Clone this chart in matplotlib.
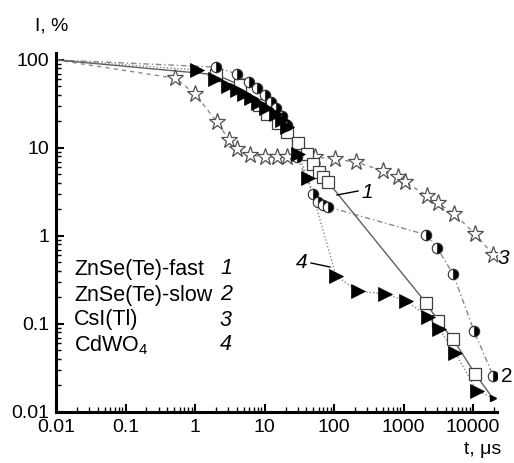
import matplotlib
matplotlib.use("Agg")
import matplotlib.pyplot as plt
from matplotlib.ticker import LogLocator, FixedLocator, NullFormatter, FixedFormatter

plt.rcParams['font.family'] = ['Liberation Sans', 'DejaVu Sans']
plt.rcParams['mathtext.fontset'] = 'custom'
plt.rcParams['mathtext.rm'] = 'Liberation Sans'
plt.rcParams['mathtext.it'] = 'Liberation Sans:italic'

# Series 1: ZnSe(Te)-fast (open squares, solid line)
t_fast = [0.01, 2.0, 4.4, 8.3, 10.9, 15.6, 21, 30.4, 40.9, 49.9, 60.8, 69.5, 82, 2110, 3130, 5150, 10700, 20000]
i_fast = [100, 68, 52, 31, 24, 19, 15, 11.4, 8.55, 6.6, 5.3, 4.7, 4.1, 0.173, 0.108, 0.067, 0.027, 0.0137]

# Series 2: ZnSe(Te)-slow (half-filled circles, dash-dot line)
t_slow = [0.01, 2.0, 4.0, 6.0, 7.8, 10.2, 12.4, 14.6, 17.9, 21.1, 29.4, 49.9, 58.9, 69.5, 82, 2110, 3030, 5150, 10300, 19400]
i_slow = [100, 83, 69, 56, 48, 40, 33.3, 28.5, 23.1, 18.3, 7.9, 3.0, 2.43, 2.25, 2.14, 1.03, 0.73, 0.37, 0.083, 0.0257]

# Series 3: CsI(Tl) (open stars, dashed line)
t_csi = [0.01, 0.52, 1.0, 2.07, 3.08, 4.02, 6.2, 10.2, 15.1, 21, 53, 103, 207, 507, 834, 1050, 2180, 3130, 5330, 10700, 19400]
i_csi = [100, 62, 41, 19.7, 12.3, 9.7, 8.3, 7.9, 7.9, 7.9, 7.9, 7.5, 6.9, 5.5, 4.7, 4.1, 2.85, 2.37, 1.78, 1.05, 0.61]

# Series 4: CdWO4 (filled triangles, dotted line)
t_cdwo = [0.01, 1.07, 1.94, 2.98, 4.0, 5.07, 6.4, 8.1, 10.5, 14.6, 17.9, 21.1, 30.4, 42.2, 107, 221, 542, 1087, 2250, 3250, 5510, 11400, 19400]
i_cdwo = [100, 77, 60.8, 50.7, 45.6, 41, 37, 32.4, 28.5, 24.3, 20.8, 17.3, 8.5, 4.56, 0.35, 0.237, 0.219, 0.183, 0.12, 0.088, 0.047, 0.0173, 0.0144]

legend_names = ["ZnSe(Te)-fast", "ZnSe(Te)-slow", "CsI(Tl)", "CdWO$_4$"]
legend_nums = ["1", "2", "3", "4"]

x_ticks = [0.01, 0.1, 1, 10, 100, 1000, 10000]
x_labels = ["0.01", "0.1", "1", "10", "100", "1000", "10000"]
y_ticks = [0.01, 0.1, 1, 10, 100]
y_labels = ["0.01", "0.1", "1", "10", "100"]

fig = plt.figure(figsize=(5.14, 4.63), dpi=100)
ax = fig.add_axes([0.1089, 0.1102, 0.858, 0.7754])
ax.set_xscale('log')
ax.set_yscale('log')
ax.set_xlim(0.01, 22000)
ax.set_ylim(0.01, 120)

lc = '#8a8a8a'
# lines
ax.plot(t_csi, i_csi, color=lc, lw=1.0, ls=(0, (3, 3)), zorder=2)
ax.plot(t_slow, i_slow, color=lc, lw=1.0, ls=(0, (4, 2, 1, 2)), zorder=2)
ax.plot(t_cdwo, i_cdwo, color=lc, lw=1.0, ls=(0, (1, 1.5)), zorder=2)
ax.plot(t_fast, i_fast, color='#606060', lw=1.0, ls='-', zorder=2)

# markers
ax.plot(t_csi[1:], i_csi[1:], ls='none', marker='*', ms=12.5, mfc='white', mec='#505050', mew=0.9, zorder=3)
ax.plot(t_fast[1:-1], i_fast[1:-1], ls='none', marker='s', ms=8, mfc='white', mec='#404040', mew=0.9, zorder=3)
ax.plot(t_slow[1:], i_slow[1:], ls='none', marker='o', ms=7.5, fillstyle='right', mfc='black',
        mfcalt='white', mec='#303030', mew=0.8, zorder=4)
ax.plot(t_cdwo[1:-1], i_cdwo[1:-1], ls='none', marker='>', ms=10, mfc='black', mec='black', mew=0.5, zorder=5)
ax.plot(t_cdwo[-1:], i_cdwo[-1:], ls='none', marker='>', ms=4, mfc='black', mec='black', zorder=5)

# spines
for s in ['top', 'right']:
    ax.spines[s].set_visible(False)
for s in ['left', 'bottom']:
    ax.spines[s].set_linewidth(2.2)

ax.xaxis.set_major_locator(FixedLocator(x_ticks))
ax.xaxis.set_major_formatter(FixedFormatter(x_labels))
ax.yaxis.set_major_locator(FixedLocator(y_ticks))
ax.yaxis.set_major_formatter(FixedFormatter(y_labels))
ax.xaxis.set_minor_locator(LogLocator(base=10, subs=range(2, 10), numticks=20))
ax.yaxis.set_minor_locator(LogLocator(base=10, subs=range(2, 10), numticks=20))
ax.xaxis.set_minor_formatter(NullFormatter())
ax.yaxis.set_minor_formatter(NullFormatter())
ax.tick_params(which='major', direction='in', length=6, width=1.5, labelsize=14, pad=5)
ax.tick_params(which='minor', direction='in', length=3.5, width=1.0)

# axis titles
fig.text(35 / 514, 1 - 26 / 463, "I, %", fontsize=14, ha='left', va='center')
fig.text(483 / 514, 1 - 450 / 463, "t, \u03bcs", fontsize=14, ha='center', va='center')

# text legend
ys = [269, 295, 320, 345]
for name, num, y in zip(legend_names, legend_nums, ys):
    fig.text(74 / 514, 1 - y / 463, name, fontsize=15.5, ha='left', va='center')
    fig.text(226 / 514, 1 - y / 463, num, fontsize=15.5, ha='center', va='center', style='italic')

# curve labels with leader lines
def px(x, y):
    return (x / 514, 1 - y / 463)

fig.text(*px(367, 192), "1", fontsize=15, style='italic', ha='center', va='center')
fig.add_artist(plt.Line2D([337 / 514, 358 / 514], [1 - 195 / 463, 1 - 191 / 463], color='black', lw=1.0))
fig.text(*px(302, 263), "4", fontsize=15, style='italic', ha='center', va='center')
fig.add_artist(plt.Line2D([311 / 514, 330 / 514], [1 - 263 / 463, 1 - 267 / 463], color='black', lw=1.0))
fig.text(*px(503, 258), "3", fontsize=15, style='italic', ha='center', va='center')
fig.text(*px(507, 377), "2", fontsize=15, ha='center', va='center')

fig.savefig("out.png", dpi=100)
